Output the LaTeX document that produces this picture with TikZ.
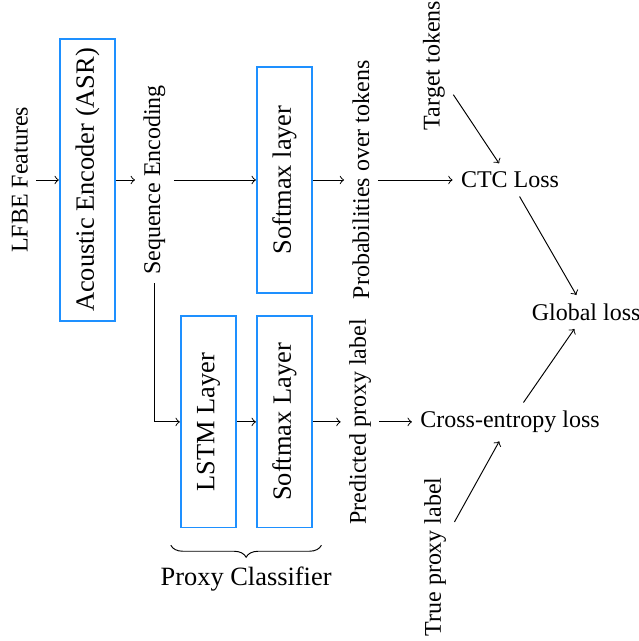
\documentclass[tikz,border=0pt]{standalone}
\usepackage{fontspec}
\setmainfont{Liberation Serif}
\usetikzlibrary{positioning,decorations.pathreplacing}
\definecolor{layerblue}{RGB}{30,144,255}

\begin{document}
\begin{tikzpicture}[
        on grid,
        every node/.style={inner sep=3.33pt},
        vtext/.style={rotate=90},
        layerbox/.style={
            draw=layerblue,
            line width=0.8pt,
            rotate=90,
            minimum height=23pt,
            font=\fontsize{11pt}{13pt}\selectfont
        },
        bracebelow/.style={decorate, decoration={brace, mirror, amplitude=5pt}}
    ]
        \useasboundingbox (0,0) rectangle (266.25pt,-267.1pt);

        % ASR branch
        \node[vtext] (lfbe) at (8.33pt,-75pt) {LFBE Features};
        \node[layerbox, minimum width=117.5pt] (enc) [right=28.1pt of lfbe] {Acoustic Encoder (ASR)};
        \node[vtext] (seq) [right=27.9pt of enc] {Sequence Encoding};
        \node[layerbox, minimum width=94.5pt] (soft1) [right=54.2pt of seq] {Softmax layer};
        \node[vtext] (prob) [right=31.9pt of soft1] {Probabilities over tokens};
        \node (ctc) [right=62.1pt of prob] {CTC Loss};
        \node[vtext] (target) [above left=47.7pt and 31.7pt of ctc] {Target tokens};
        \node (global) [below right=55pt and 31.7pt of ctc] {Global loss};

        % Proxy branch
        \node[layerbox, minimum width=88pt] (soft2) [below=100.8pt of soft1] {Softmax Layer};
        \node[layerbox, minimum width=88pt] (lstm) [left=31.7pt of soft2] {LSTM Layer};
        \node[vtext] (pred) [right=31.5pt of soft2] {Predicted proxy label};
        \node (cross) [right=62.5pt of pred] {Cross-entropy loss};
        \node[vtext] (truel) [below left=56.25pt and 31.25pt of cross] {True proxy label};

        % Edges
        \draw[->] (lfbe) -- (enc);
        \draw[->] (enc) -- (seq);
        \draw[->] (seq) -- (soft1);
        \draw[->] (soft1) -- (prob);
        \draw[->] (prob) -- (ctc);
        \draw[->] (target) -- (ctc);
        \draw[->] (ctc) -- (global);
        \draw[->] (seq) |- (lstm);
        \draw[->] (lstm) -- (soft2);
        \draw[->] (soft2) -- (pred);
        \draw[->] (pred) -- (cross);
        \draw[->] (truel) -- (cross);
        \draw[->] (cross) -- (global);

        % Brace
        \draw[bracebelow] ([xshift=-3.75pt,yshift=-7pt]lstm.north west) -- ([xshift=3.5pt,yshift=-7pt]soft2.south west)
            node[midway, below=5.5pt, font=\fontsize{11pt}{13pt}\selectfont] (proxy) {Proxy Classifier};
    \end{tikzpicture}
\end{document}
